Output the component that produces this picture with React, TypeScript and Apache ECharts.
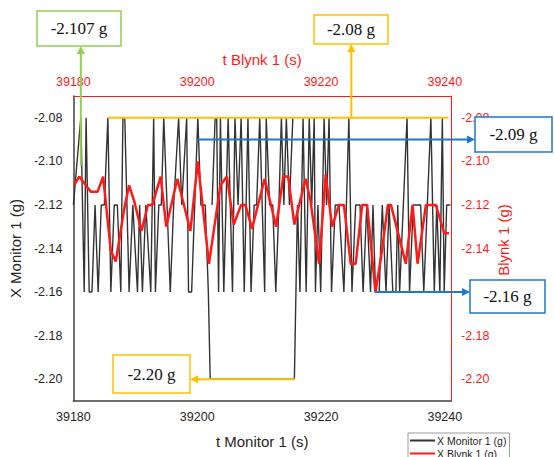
import React, { useEffect, useRef } from 'react';
import * as echarts from 'echarts';

// ---------- axis settings ----------
const T_MIN = 39180;
const T_MAX = 39241;
const T_INTERVAL = 20;
const G_MIN = -2.21;
const G_MAX = -2.07;
// right-axis tick label that is hidden behind the "-2.16 g" call-out in the reference
const RIGHT_HIDDEN_TICKS = [-216];

// ---------- X Monitor 1 (g) : segment 1 (times / values) ----------
const monitorSeg1Time = [
  39180.0, 39181.2, 39181.75, 39182.05, 39182.55, 39183.0, 39183.5, 39184.0, 39184.5, 39185.0,
  39185.57, 39186.05, 39186.6, 39187.1, 39187.66, 39188.0, 39188.3, 39189.0, 39189.6, 39190.35,
  39190.7, 39191.15, 39191.7, 39192.5, 39192.97, 39193.25, 39193.8, 39194.2, 39194.6, 39195.65,
  39196.2, 39197.0, 39197.5, 39198.3, 39198.6, 39199.1, 39199.6, 39200.1, 39200.6, 39201.3,
  39201.8, 39202.1, 39215.7, 39216.2, 39216.6, 39217.1, 39217.6, 39218.1, 39218.5, 39218.9,
  39219.1, 39219.5, 39219.95, 39220.5, 39220.9, 39221.3, 39221.7, 39222.3, 39222.9, 39223.7,
  39224.5, 39225.0, 39225.6, 39226.3, 39226.8, 39227.4, 39228.0, 39228.4, 39228.8, 39229.4,
  39229.9, 39230.5, 39231.0, 39231.6, 39232.1, 39232.4, 39232.7, 39233.9, 39234.3, 39234.9,
  39235.5, 39236.1, 39236.6, 39237.75, 39238.3, 39238.7, 39239.2, 39239.6, 39239.9, 39240.3,
  39240.9,
];
const monitorSeg1Value = [
  -2.12, -2.08, -2.16, -2.08, -2.16, -2.16, -2.12, -2.16, -2.12, -2.12,
  -2.08, -2.16, -2.12, -2.12, -2.16, -2.08, -2.08, -2.16, -2.12, -2.16,
  -2.12, -2.16, -2.12, -2.16, -2.08, -2.16, -2.12, -2.12, -2.08, -2.16,
  -2.12, -2.08, -2.12, -2.08, -2.16, -2.16, -2.12, -2.08, -2.12, -2.12,
  -2.16, -2.20, -2.20, -2.12, -2.16, -2.08, -2.16, -2.08, -2.12, -2.08,
  -2.16, -2.12, -2.16, -2.08, -2.12, -2.08, -2.16, -2.12, -2.12, -2.16,
  -2.08, -2.16, -2.12, -2.12, -2.16, -2.12, -2.16, -2.12, -2.16, -2.16,
  -2.12, -2.16, -2.12, -2.16, -2.16, -2.12, -2.16, -2.08, -2.16, -2.12,
  -2.12, -2.12, -2.16, -2.08, -2.16, -2.12, -2.16, -2.08, -2.16, -2.12,
  -2.12,
];

// ---------- X Monitor 1 (g) : segment 2 ----------
const monitorSeg2Time = [
  39202.4, 39202.9, 39203.15, 39203.45, 39203.75, 39204.3, 39205.0, 39205.7, 39206.1, 39206.6,
  39207.1, 39207.6, 39208.2, 39208.7, 39209.2, 39209.6, 39210.1, 39210.9, 39211.15, 39211.7,
  39212.2, 39212.7, 39213.2, 39213.6, 39214.0, 39214.4, 39214.9, 39215.45,
];
const monitorSeg2Value = [
  -2.12, -2.08, -2.08, -2.16, -2.08, -2.16, -2.08, -2.16, -2.08, -2.12,
  -2.08, -2.16, -2.08, -2.16, -2.12, -2.12, -2.08, -2.16, -2.08, -2.12,
  -2.12, -2.16, -2.12, -2.08, -2.12, -2.08, -2.12, -2.08,
];

// ---------- X Blynk 1 (g) ----------
const blynkTime = [
  39180.1, 39180.95, 39182.8, 39183.9, 39184.8, 39186.05, 39186.85, 39188.2, 39189.0, 39189.8,
  39191.0, 39192.05, 39192.75, 39194.1, 39195.0, 39196.8, 39198.9, 39200.1, 39201.9, 39203.75,
  39204.8, 39205.9, 39207.1, 39207.8, 39208.85, 39210.9, 39212.75, 39213.9, 39214.7, 39215.7,
  39217.5, 39218.3, 39219.7, 39220.75, 39221.8, 39222.9, 39223.7, 39224.8, 39225.6, 39226.65,
  39227.45, 39228.8, 39229.7, 39230.8, 39231.3, 39233.7, 39234.8, 39235.6, 39236.95, 39238.55,
  39239.9, 39240.7,
];
const blynkValue = [
  -2.111, -2.107, -2.114, -2.114, -2.107, -2.141, -2.146, -2.122, -2.111, -2.118,
  -2.132, -2.12, -2.12, -2.107, -2.13, -2.108, -2.132, -2.1, -2.147, -2.111,
  -2.107, -2.129, -2.12, -2.12, -2.131, -2.108, -2.13, -2.107, -2.107, -2.129,
  -2.108, -2.118, -2.147, -2.106, -2.13, -2.12, -2.12, -2.147, -2.147, -2.12,
  -2.12, -2.16, -2.144, -2.12, -2.12, -2.147, -2.12, -2.147, -2.12, -2.12,
  -2.133, -2.133,
];

// ---------- annotations ----------
const annoGreenLabel = '-2.107 g';
const annoYellowTopLabel = '-2.08 g';
const annoBlueTopLabel = '-2.09 g';
const annoBlueBottomLabel = '-2.16 g';
const annoYellowBottomLabel = '-2.20 g';
const rightAxisTitle = 'Blynk 1 (g)';

const zip = (t: number[], v: number[]) => t.map((x, i) => [x, v[i]]);

const SANS = 'Liberation Sans, Arial, sans-serif';
const SERIF = 'Liberation Serif, Times New Roman, serif';
const DARK = '#262626';
const AXIS_DARK = '#404040';
const RED = '#ff1a1a';
const GREEN = '#92d050';
const YELLOW = '#ffc000';
const BLUE = '#1f78c8';

const yLabel = (v: number) => {
  const k = Math.round(v * 100);
  if (k % 2 !== 0) return '';
  return (k / 100).toFixed(2);
};
const yLabelRight = (v: number) => {
  const k = Math.round(v * 100);
  if (RIGHT_HIDDEN_TICKS.indexOf(k) >= 0) return '';
  return yLabel(v);
};
const xLabel = (v: number) => String(Math.round(v));

function arrow(x1: number, y1: number, x2: number, y2: number, color: string) {
  const dx = x2 - x1;
  const dy = y2 - y1;
  const len = Math.sqrt(dx * dx + dy * dy) || 1;
  const ux = dx / len;
  const uy = dy / len;
  const hl = 8;
  const hw = 4;
  const bx = x2 - ux * hl;
  const by = y2 - uy * hl;
  return [
    {
      type: 'line',
      z: 100,
      shape: { x1, y1, x2: bx, y2: by },
      style: { stroke: color, lineWidth: 2 },
    },
    {
      type: 'polygon',
      z: 100,
      shape: {
        points: [
          [x2, y2],
          [bx - uy * hw, by + ux * hw],
          [bx + uy * hw, by - ux * hw],
        ],
      },
      style: { fill: color },
    },
  ];
}

function box(x: number, y: number, w: number, h: number, color: string, label: string) {
  return [
    {
      type: 'rect',
      z: 101,
      shape: { x, y, width: w, height: h },
      style: { fill: '#ffffff', stroke: color, lineWidth: 1.5 },
    },
    {
      type: 'text',
      z: 102,
      x: x + w / 2,
      y: y + h / 2,
      style: {
        text: label,
        fill: '#111111',
        font: `17px ${SERIF}`,
        align: 'center',
        verticalAlign: 'middle',
      },
    },
  ];
}

export default function App() {
  const ref = useRef<HTMLDivElement>(null);

  useEffect(() => {
    if (!ref.current) return;
    const chart = echarts.init(ref.current, undefined, { renderer: 'svg' });

    const xCommon = {
      type: 'value',
      min: T_MIN,
      max: T_MAX,
      interval: T_INTERVAL,
      splitLine: { show: false },
      axisTick: { show: false },
      nameLocation: 'middle',
    };
    const yCommon = {
      type: 'value',
      min: G_MIN,
      max: G_MAX,
      interval: 0.01,
      splitLine: { show: false },
      axisTick: { show: false },
      nameLocation: 'middle',
      nameRotate: 90,
    };

    chart.setOption({
      animation: false,
      backgroundColor: '#ffffff',
      grid: { left: 73, right: 103, top: 96, bottom: 56 },
      legend: {
        data: ['X Monitor 1 (g)', 'X Blynk 1 (g)'],
        orient: 'vertical',
        left: 408,
        top: 433,
        height: 60,
        padding: [2, 3, 2, 1],
        itemWidth: 25,
        itemHeight: 10,
        itemGap: 2,
        borderColor: '#9a9a9a',
        borderWidth: 1,
        itemStyle: { opacity: 0 },
        textStyle: { fontSize: 10.5, color: DARK, fontFamily: SANS, padding: [0, 0, 0, -3] },
      },
      xAxis: [
        {
          ...xCommon,
          position: 'bottom',
          name: 't Monitor 1 (s)',
          nameGap: 33,
          nameTextStyle: { fontSize: 15, color: DARK, fontFamily: SANS },
          axisLine: { show: true, lineStyle: { color: AXIS_DARK, width: 1.5 } },
          axisLabel: {
            fontSize: 12.5, color: DARK, fontFamily: SANS, margin: 9,
            showMaxLabel: false, formatter: xLabel,
          },
        },
        {
          ...xCommon,
          position: 'top',
          name: 't Blynk 1 (s)',
          nameGap: 29,
          nameTextStyle: { fontSize: 15, color: RED, fontFamily: SANS },
          axisLine: { show: true, lineStyle: { color: RED, width: 1 } },
          axisLabel: {
            fontSize: 12.5, color: RED, fontFamily: SANS, margin: 8,
            showMaxLabel: false, formatter: xLabel,
          },
        },
      ],
      yAxis: [
        {
          ...yCommon,
          position: 'left',
          name: 'X Monitor 1 (g)',
          nameGap: 43,
          nameTextStyle: { fontSize: 15, color: DARK, fontFamily: SANS },
          axisLine: { show: true, lineStyle: { color: AXIS_DARK, width: 1.5 } },
          axisLabel: { fontSize: 12.5, color: DARK, fontFamily: SANS, margin: 11, formatter: yLabel },
        },
        {
          ...yCommon,
          position: 'right',
          axisLine: { show: true, lineStyle: { color: RED, width: 1 } },
          axisLabel: { fontSize: 12.5, color: RED, fontFamily: SANS, margin: 10, formatter: yLabelRight },
        },
      ],
      series: [
        {
          name: 'X Monitor 1 (g)',
          type: 'line',
          xAxisIndex: 0,
          yAxisIndex: 0,
          symbol: 'none',
          data: zip(monitorSeg1Time, monitorSeg1Value),
          lineStyle: { color: '#333333', width: 1.4 },
          itemStyle: { color: '#333333' },
          z: 2,
        },
        {
          name: 'X Monitor 1 (g)',
          type: 'line',
          xAxisIndex: 0,
          yAxisIndex: 0,
          symbol: 'none',
          data: zip(monitorSeg2Time, monitorSeg2Value),
          lineStyle: { color: '#333333', width: 1.4 },
          itemStyle: { color: '#333333' },
          z: 2,
        },
        {
          name: 'X Blynk 1 (g)',
          type: 'line',
          xAxisIndex: 1,
          yAxisIndex: 1,
          symbol: 'none',
          data: zip(blynkTime, blynkValue),
          lineStyle: { color: RED, width: 2.5 },
          itemStyle: { color: RED },
          z: 3,
        },
      ],
    });

    const px = (t: number, v: number) =>
      chart.convertToPixel({ xAxisIndex: 0, yAxisIndex: 0 }, [t, v]) as number[];

    const yTopStart = px(39185.6, -2.08);
    const yTopEnd = px(39240.6, -2.08);
    const yTopArrow = px(39224.9, -2.08);
    const greenStart = px(39181.2, -2.102);
    const blueTop = px(39199.9, -2.09);
    const blueBottom = px(39228.7, -2.16);
    const yellowBottom = px(39215.8, -2.2);

    const graphics: any[] = [
      {
        type: 'text',
        z: 50,
        x: 503,
        y: 240,
        rotation: Math.PI / 2,
        style: {
          text: rightAxisTitle,
          fill: RED,
          font: `15px ${SANS}`,
          align: 'center',
          verticalAlign: 'middle',
        },
      },
      {
        type: 'line',
        z: 99,
        shape: { x1: yTopStart[0], y1: yTopStart[1], x2: yTopEnd[0], y2: yTopEnd[1] },
        style: { stroke: YELLOW, lineWidth: 2 },
      },
      ...arrow(yTopArrow[0], yTopArrow[1], yTopArrow[0], 44, YELLOW),
      ...arrow(greenStart[0], greenStart[1], greenStart[0], 46, GREEN),
      ...arrow(blueTop[0], blueTop[1], 475, blueTop[1], BLUE),
      ...arrow(blueBottom[0], blueBottom[1], 470, blueBottom[1], BLUE),
      ...arrow(yellowBottom[0], yellowBottom[1], 190, yellowBottom[1], YELLOW),
      ...box(37, 11, 84, 35, GREEN, annoGreenLabel),
      ...box(314, 15, 74, 29, YELLOW, annoYellowTopLabel),
      ...box(475, 117, 77, 35, BLUE, annoBlueTopLabel),
      ...box(470, 280, 75, 33, BLUE, annoBlueBottomLabel),
      ...box(113, 355, 77, 38, YELLOW, annoYellowBottomLabel),
    ];

    chart.setOption({ graphic: graphics });

    return () => chart.dispose();
  }, []);

  return (
    <div
      ref={ref}
      style={{ position: 'fixed', left: 0, top: 0, width: 554, height: 457, background: '#fff' }}
    />
  );
}
